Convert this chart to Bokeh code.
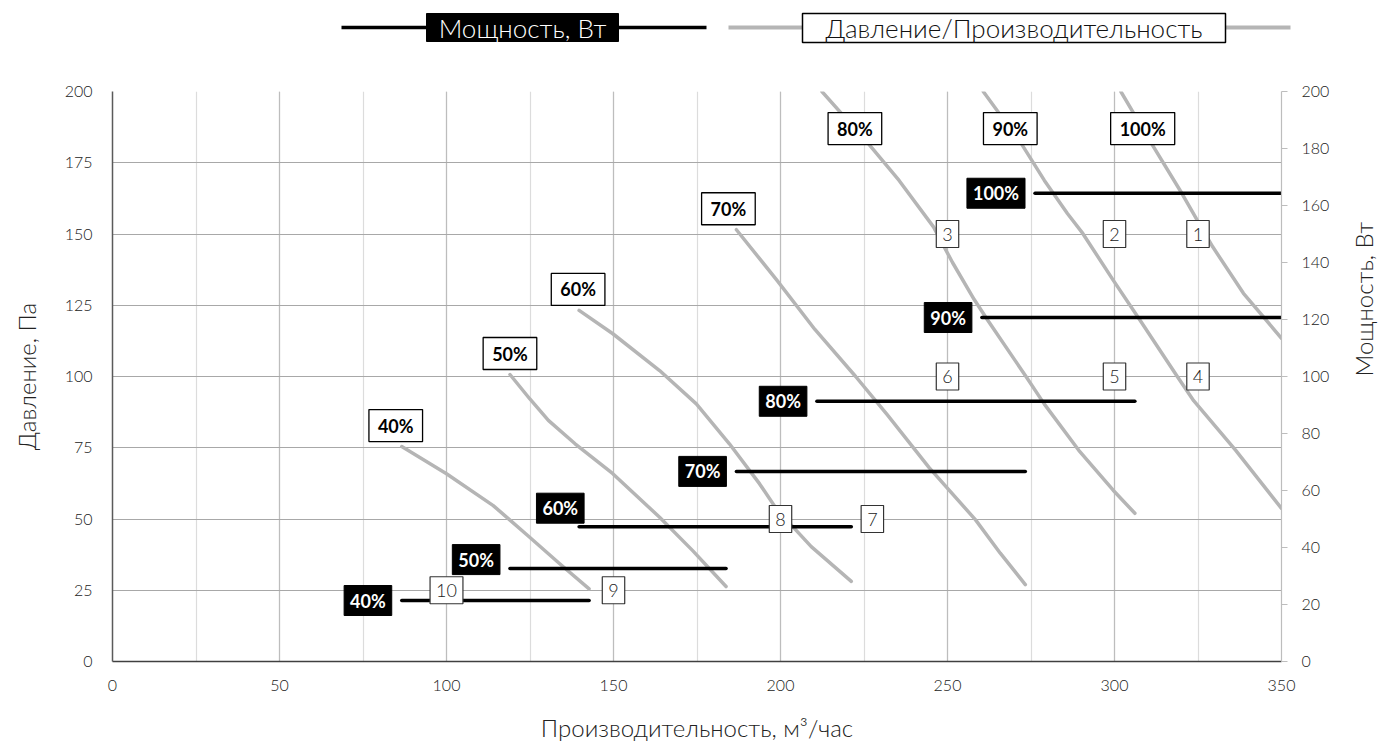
import math
import numpy as np
from bokeh.plotting import figure
from bokeh.models import Range1d, LinearAxis, SingleIntervalTicker, ColumnDataSource, Label
from bokeh.layouts import column
from bokeh.core.properties import value
from bokeh.embed import file_html
from bokeh.resources import INLINE

# ---------------- data ----------------
speed_labels = ["40%", "50%", "60%", "70%", "80%", "90%", "100%"]

# pressure / flow curves (x: m3/h, y: Pa)
curve_x_40 = [86.6, 100.0, 114.0, 124.9, 133.9, 142.7]
curve_y_40 = [75.4, 65.9, 54.7, 43.6, 34.3, 25.5]
curve_x_50 = [119.0, 124.9, 130.5, 138.5, 149.8, 163.8, 173.7, 183.7]
curve_y_50 = [100.7, 92.2, 84.6, 76.4, 65.9, 50.6, 38.9, 26.3]
curve_x_60 = [139.7, 149.8, 163.8, 174.8, 184.7, 193.7, 198.8, 209.2, 221.2]
curve_y_60 = [123.2, 115.0, 102.1, 90.4, 76.4, 62.4, 53.5, 40.3, 28.1]
curve_x_70 = [186.8, 198.9, 210.3, 222.5, 232.0, 244.5, 258.4, 265.8, 273.3]
curve_y_70 = [151.5, 133.8, 116.5, 100.0, 86.5, 68.0, 49.7, 38.0, 27.0]
curve_x_80 = [212.4, 226.3, 235.5, 245.8, 251.5, 258.0, 262.0, 273.5, 279.0, 289.3, 299.6, 306.1]
curve_y_80 = [200.0, 181.7, 168.8, 152.5, 140.0, 127.0, 119.8, 100.0, 90.3, 74.1, 60.1, 52.0]
curve_x_90 = [260.7, 272.1, 279.0, 285.9, 290.5, 299.6, 307.6, 318.8, 323.7, 336.3, 350.0]
curve_y_90 = [200.0, 181.7, 168.8, 157.2, 150.2, 133.8, 119.8, 100.0, 91.5, 74.1, 53.7]
curve_x_100 = [301.9, 311.1, 320.2, 324.8, 329.4, 338.6, 350.0]
curve_y_100 = [200.0, 181.7, 164.2, 154.8, 145.5, 129.2, 113.4]

curves_x = [curve_x_40, curve_x_50, curve_x_60, curve_x_70, curve_x_80, curve_x_90, curve_x_100]
curves_y = [curve_y_40, curve_y_50, curve_y_60, curve_y_70, curve_y_80, curve_y_90, curve_y_100]

# power (W) per speed, with flow range
power_w = [21.4, 32.6, 47.3, 66.7, 91.3, 120.7, 164.3]
power_x_start = [86.6, 119.0, 139.7, 186.8, 210.9, 260.3, 276.2]
power_x_end = [142.7, 183.7, 221.2, 273.3, 306.1, 350.0, 350.0]

# numbered operating points
point_labels = ["1", "2", "3", "4", "5", "6", "7", "8", "9", "10"]
point_x = [325, 300, 250, 325, 300, 250, 227.5, 200, 150, 100]
point_y = [150, 150, 150, 100, 100, 100, 50, 50, 25, 25]

x_title = "Производительность, м³/час"
y_title = "Давление, Па"
y2_title = "Мощность, Вт"
legend_power = "Мощность, Вт"
legend_curve = "Давление/Производительность"

# ---------------- styling ----------------
FONT = "Lato"
FONT_LIGHT = "'Lato Light', Lato"
CURVE_COLOR = "#b5b5b5"
TEXT_COLOR = "#222222"
LEG_H = 50

p = figure(frame_width=1169, frame_height=570, x_range=Range1d(0, 350), y_range=Range1d(0, 200),
           output_backend="svg", toolbar_location=None,
           min_border_left=112, min_border_right=100, min_border_top=91 - LEG_H, min_border_bottom=80)
p.extra_y_ranges = {"power": Range1d(0, 200)}
p.outline_line_color = None

xt = SingleIntervalTicker(interval=50, num_minor_ticks=2)
p.xaxis.ticker = xt
p.xgrid.grid_line_color = "#bdbdbd"
p.xgrid.minor_grid_line_color = "#dcdcdc"
p.xgrid.grid_line_width = 1.2
p.xgrid.minor_grid_line_width = 1.2
yt = SingleIntervalTicker(interval=25, num_minor_ticks=0)
p.yaxis.ticker = yt
p.ygrid.grid_line_color = "#a8a8a8"
p.ygrid.grid_line_width = 1.2

xa = p.xaxis[0]
xa.axis_line_color = "#404040"
xa.axis_line_width = 1.5
xa.major_tick_line_color = None
xa.minor_tick_line_color = None
xa.major_label_text_font = FONT_LIGHT
xa.major_label_text_font_size = "16px"
xa.major_label_text_color = TEXT_COLOR
xa.major_label_standoff = 12
xa.axis_label = x_title
xa.axis_label_text_font = FONT_LIGHT
xa.axis_label_text_font_size = "24px"
xa.axis_label_text_font_style = "normal"
xa.axis_label_text_color = TEXT_COLOR
xa.axis_label_standoff = 19

ya = p.yaxis[0]
ya.axis_line_color = "#5a5a5a"
ya.axis_line_width = 1.5
ya.major_tick_line_color = None
ya.minor_tick_line_color = None
ya.major_label_text_font = FONT_LIGHT
ya.major_label_text_font_size = "16px"
ya.major_label_text_color = TEXT_COLOR
ya.major_label_standoff = 14
ya.axis_label = y_title
ya.axis_label_text_font = FONT_LIGHT
ya.axis_label_text_font_size = "24px"
ya.axis_label_text_font_style = "normal"
ya.axis_label_text_color = TEXT_COLOR
ya.axis_label_standoff = 21

ra = LinearAxis(y_range_name="power", ticker=SingleIntervalTicker(interval=20, num_minor_ticks=0))
ra.axis_line_color = "#bdbdbd"
ra.axis_line_width = 1.2
ra.major_tick_line_color = "#bdbdbd"
ra.major_tick_line_width = 1.2
ra.major_tick_in = 0
ra.major_tick_out = 6
ra.minor_tick_line_color = None
ra.major_label_text_font = FONT_LIGHT
ra.major_label_text_font_size = "16px"
ra.major_label_text_color = TEXT_COLOR
ra.major_label_standoff = 14
ra.axis_label_text_font = FONT_LIGHT
ra.axis_label_text_font_size = "24px"
ra.axis_label_text_font_style = "normal"
ra.axis_label_text_color = TEXT_COLOR
ra.axis_label_standoff = 31
if "axis_label_orientation" in LinearAxis.properties():
    ra.axis_label = y2_title
    ra.axis_label_orientation = math.pi / 2
else:
    p.add_layout(Label(x=350, y=100, y_range_name="power", x_offset=89, text=y2_title, angle=math.pi / 2,
                       text_font=FONT_LIGHT, text_font_size="24px", text_color=TEXT_COLOR,
                       text_align="center", text_baseline="middle"))
p.add_layout(ra, "right")

# curves
for cx, cy in zip(curves_x, curves_y):
    p.line(cx, cy, line_color=CURVE_COLOR, line_width=3.5, line_cap="round", line_join="round")

# power lines
p.segment(x0=power_x_start, y0=power_w, x1=power_x_end, y1=power_w, y_range_name="power",
          line_color="black", line_width=3.5, line_cap="round")

# curve labels (white boxes)
cl_x, cl_y, cl_dx, cl_dy = [], [], [], []
curve_label_dx = [-6, 0, -1, -8, 0, 0, 0]
for i, (cx, cy) in enumerate(zip(curves_x, curves_y)):
    if cy[0] < 199:
        cl_x.append(cx[0]); cl_y.append(cy[0]); cl_dy.append(-21)
    else:
        yy = 187.0
        cl_x.append(float(np.interp(yy, cy[::-1], cx[::-1]))); cl_y.append(yy); cl_dy.append(0)
    cl_dx.append(curve_label_dx[i])
cl_src = ColumnDataSource(dict(x=cl_x, y=cl_y, t=speed_labels, dx=cl_dx, dy=cl_dy))
p.text(x="x", y="y", text="t", x_offset="dx", y_offset="dy", source=cl_src,
       text_font=value(FONT), text_font_style="bold", text_font_size="18px", text_color="black",
       text_align="center", text_baseline="middle",
       background_fill_color="white", border_line_color="black", border_line_width=1.3,
       padding=(9, 5))

# power labels (black boxes)
pl_dx = [-10, -10, 5, -10, -10, -10, -10]
pl_dy = [0, -9, -18.5, 0, 0, 0, 0]
pl_src = ColumnDataSource(dict(x=power_x_start, y=power_w, t=speed_labels, dx=pl_dx, dy=pl_dy))
p.text(x="x", y="y", text="t", x_offset="dx", y_offset="dy", source=pl_src, y_range_name="power",
       text_font=value(FONT), text_font_style="bold", text_font_size="18px", text_color="white",
       text_align="right", text_baseline="middle",
       background_fill_color="black", border_line_color="black", border_line_width=1,
       padding=(6, 4))

# numbered points
pt_src = ColumnDataSource(dict(x=point_x, y=point_y, t=point_labels))
p.text(x="x", y="y", text="t", source=pt_src,
       text_font=value(FONT_LIGHT), text_font_size="18px", text_color=TEXT_COLOR,
       text_align="center", text_baseline="middle",
       background_fill_color="white", border_line_color="#333333", border_line_width=1.2,
       padding=(6, 7))

# ---------------- legend strip ----------------
has_frame_align = "frame_align" in p.properties()
if has_frame_align:
    p.frame_align = False
    lg = figure(width=1389, height=LEG_H, x_range=Range1d(0, 1389), y_range=Range1d(LEG_H, 0),
                output_backend="svg", toolbar_location=None, min_border=0,
                x_axis_location=None, y_axis_location=None)
    lg.frame_align = False
else:
    lg = figure(frame_width=1169, height=LEG_H, x_range=Range1d(112, 1281), y_range=Range1d(LEG_H, 0),
                output_backend="svg", toolbar_location=None, min_border=0,
                x_axis_location=None, y_axis_location=None)
lg.grid.visible = False
lg.outline_line_color = None

ly = 27
lg.segment(x0=[341, 618], y0=[ly, ly], x1=[426, 706], y1=[ly, ly], line_color="black", line_width=3.5)
lg.quad(left=[426], right=[618], top=[13], bottom=[41], fill_color="black", line_color="black")
lg.text(x=[522], y=[ly], text=[legend_power], text_font=value(FONT_LIGHT), text_font_size="26px",
        text_color="white", text_align="center", text_baseline="middle")

lg.segment(x0=[728, 1225], y0=[ly, ly], x1=[802, 1290], y1=[ly, ly], line_color=CURVE_COLOR, line_width=4)
lg.quad(left=[802], right=[1225], top=[13], bottom=[42], fill_color="white", line_color="black", line_width=1.5)
lg.text(x=[1013.5], y=[ly], text=[legend_curve], text_font=value(FONT_LIGHT), text_font_size="26px",
        text_color="#111111", text_align="center", text_baseline="middle")

layout = column(lg, p)
open("out.html", "w").write(file_html(layout, INLINE))
